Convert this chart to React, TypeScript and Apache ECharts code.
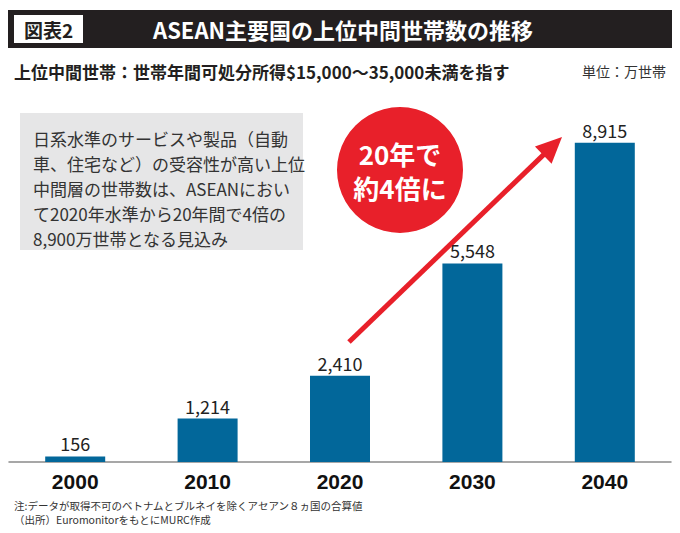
import React, { useEffect, useRef } from "react";
import * as echarts from "echarts";

const categories = ["2000", "2010", "2020", "2030", "2040"];
const values = [156, 1214, 2410, 5548, 8915];

const titleText = "ASEAN主要国の上位中間世帯数の推移";
const figLabel = "図表2";
const subtitle = "上位中間世帯：世帯年間可処分所得$15,000～35,000未満を指す";
const unitText = "単位：万世帯";
const boxLines = [
  "日系水準のサービスや製品（自動",
  "車、住宅など）の受容性が高い上位",
  "中間層の世帯数は、ASEANにおい",
  "て2020年水準から20年間で4倍の",
  "8,900万世帯となる見込み",
];
const circleLines = ["20年で", "約4倍に"];
const footLines = [
  "注:データが取得不可のベトナムとブルネイを除くアセアン８ヵ国の合算値",
  "（出所）EuromonitorをもとにMURC作成",
];

const JP = '"Noto Sans CJK JP", "Noto Sans", sans-serif';

export default function App() {
  const ref = useRef<HTMLDivElement>(null);
  useEffect(() => {
    if (!ref.current) return;
    const chart = echarts.init(ref.current, undefined, { renderer: "svg" });
    const tip = [562, 137];
    const start = [349, 342];
    const dx = tip[0] - start[0];
    const dy = tip[1] - start[1];
    const len = Math.sqrt(dx * dx + dy * dy);
    const ux = dx / len, uy = dy / len;
    const nx = -uy, ny = ux;
    const hl = 26, hw = 12;
    const bx = tip[0] - hl * ux, by = tip[1] - hl * uy;

    chart.setOption({
      animation: false,
      backgroundColor: "#ffffff",
      grid: { left: 9, right: 9, top: 104, bottom: 71, containLabel: false },
      xAxis: {
        type: "category",
        data: categories,
        axisTick: { show: false },
        axisLine: { lineStyle: { color: "#8a8a8a", width: 1.5 } },
        axisLabel: {
          color: "#111",
          fontSize: 21,
          fontWeight: "bold",
          fontFamily: '"Liberation Sans", sans-serif',
          margin: 9,
        },
      },
      yAxis: {
        type: "value",
        min: 0,
        max: 10000,
        show: false,
        splitLine: { show: false },
      },
      series: [
        {
          type: "bar",
          data: values,
          barWidth: 60,
          itemStyle: { color: "#02679a" },
          label: {
            show: true,
            position: "top",
            distance: 4,
            color: "#222",
            fontSize: 18,
            fontFamily: JP,
            formatter: (p: any) => Number(p.value).toLocaleString("en-US"),
          },
        },
      ],
      graphic: [
        { type: "rect", shape: { x: 8, y: 10, width: 664, height: 38 }, style: { fill: "#231f20" } },
        { type: "rect", shape: { x: 14, y: 15, width: 69, height: 28 }, style: { fill: "#ffffff" } },
        {
          type: "text", x: 48.5, y: 29,
          style: { text: figLabel, fill: "#231f20", fontSize: 19, fontWeight: "bold", fontFamily: JP, align: "center", verticalAlign: "middle" },
        },
        {
          type: "text", x: 343, y: 29,
          style: { text: titleText, fill: "#ffffff", fontSize: 22, fontWeight: "bold", fontFamily: JP, align: "center", verticalAlign: "middle" },
        },
        {
          type: "text", x: 14, y: 71,
          style: { text: subtitle, fill: "#231f20", fontSize: 17, fontWeight: "bold", fontFamily: JP, verticalAlign: "middle" },
        },
        {
          type: "text", x: 666, y: 71,
          style: { text: unitText, fill: "#333", fontSize: 14, fontFamily: JP, align: "right", verticalAlign: "middle" },
        },
        { type: "rect", shape: { x: 20, y: 113, width: 283, height: 137 }, style: { fill: "#e6e6e7" } },
        ...boxLines.map((t, i) => ({
          type: "text", x: 33, y: 138 + i * 25,
          style: { text: t, fill: "#333", fontSize: 17, fontFamily: JP, verticalAlign: "middle" },
        })),
        // arrow
        {
          type: "line",
          shape: { x1: start[0], y1: start[1], x2: bx + 2 * ux, y2: by + 2 * uy },
          style: { stroke: "#e8202a", lineWidth: 5 },
        },
        {
          type: "polygon",
          shape: { points: [[tip[0], tip[1]], [bx + hw * nx, by + hw * ny], [bx - hw * nx, by - hw * ny]] },
          style: { fill: "#e8202a" },
        },
        { type: "circle", shape: { cx: 400, cy: 170, r: 63 }, style: { fill: "#e8202a" } },
        ...circleLines.map((t, i) => ({
          type: "text", x: 400, y: 153 + i * 34,
          style: { text: t, fill: "#ffffff", fontSize: 26, fontWeight: "bold", fontFamily: JP, align: "center", verticalAlign: "middle", lineHeight: 30 },
        })),
        ...footLines.map((t, i) => ({
          type: "text", x: 14, y: 505 + i * 14,
          style: { text: t, fill: "#333", fontSize: 10.5, fontFamily: JP, verticalAlign: "middle" },
        })),
      ],
    });
    return () => chart.dispose();
  }, []);
  return <div ref={ref} style={{ width: 680, height: 533, margin: -8 }} />;
}
